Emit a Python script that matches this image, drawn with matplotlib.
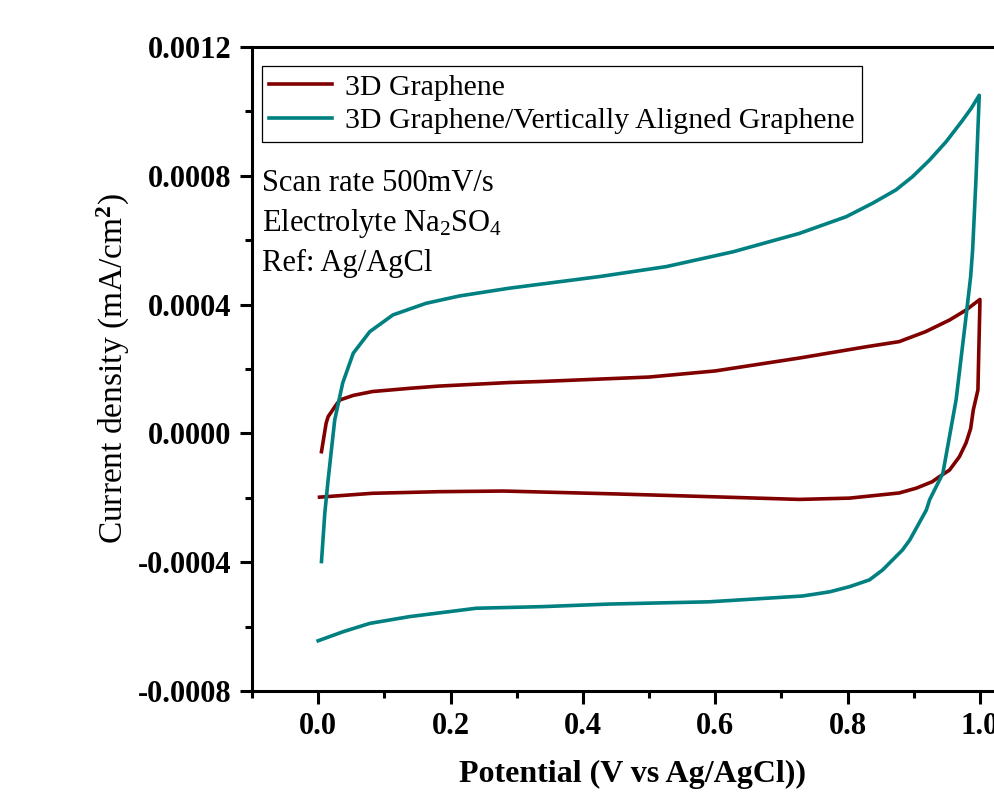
import numpy as np
import matplotlib.pyplot as plt
from matplotlib.ticker import MultipleLocator, FormatStrFormatter

plt.rcParams['font.family'] = 'Liberation Serif'
plt.rcParams['mathtext.fontset'] = 'custom'
plt.rcParams['mathtext.rm'] = 'Liberation Serif'
plt.rcParams['mathtext.it'] = 'Liberation Serif:italic'
plt.rcParams['mathtext.bf'] = 'Liberation Serif:bold'

# 3D graphene, anodic sweep then cathodic sweep
g3d_fwd_v = [0.005, 0.012, 0.015, 0.027, 0.033, 0.053, 0.082, 0.138, 0.183, 0.289,
             0.334, 0.5, 0.6, 0.727, 0.828, 0.878, 0.918, 0.954, 0.979, 1.0]
g3d_fwd_j = [-0.0000568, 0.0000314, 0.0000519, 0.0000882, 0.000104, 0.000118, 0.000130,
             0.000140, 0.000147, 0.000158, 0.000161, 0.000175, 0.000194, 0.000234,
             0.000269, 0.000285, 0.000316, 0.000352, 0.000383, 0.000416]
g3d_rev_v = [1.0, 0.998, 0.997, 0.99, 0.986, 0.979, 0.969, 0.954, 0.939, 0.928,
             0.904, 0.878, 0.803, 0.727, 0.6, 0.45, 0.28, 0.183, 0.082, 0.002]
g3d_rev_j = [0.000405, 0.000228, 0.000135, 0.0000727, 0.0000150, -0.0000298,
             -0.0000724, -0.000114, -0.000134, -0.000150, -0.000170, -0.000185,
             -0.000201, -0.000205, -0.000197, -0.000188, -0.000179, -0.000181,
             -0.000186, -0.000198]

# 3D graphene / vertically aligned graphene
vag_fwd_v = [0.005, 0.010, 0.015, 0.025, 0.037, 0.053, 0.078, 0.113, 0.163, 0.214,
             0.289, 0.425, 0.526, 0.627, 0.727, 0.798, 0.838, 0.873, 0.898, 0.924,
             0.949, 0.974, 0.987, 0.999]
vag_fwd_j = [-0.000398, -0.000248, -0.000145, 0.0000416, 0.000156, 0.000249, 0.000316,
             0.000368, 0.000404, 0.000427, 0.000451, 0.000487, 0.000518, 0.000564,
             0.000621, 0.000673, 0.000715, 0.000756, 0.000797, 0.000849, 0.000906,
             0.000973, 0.001010, 0.00105]
vag_rev_v = [0.999, 0.994, 0.989, 0.986, 0.979, 0.964, 0.944, 0.924, 0.919, 0.894,
             0.883, 0.853, 0.833, 0.803, 0.773, 0.732, 0.591, 0.440, 0.339, 0.239,
             0.138, 0.078, 0.0375, 0.0]
vag_rev_j = [0.00105, 0.000787, 0.000570, 0.000487, 0.000362, 0.000104, -0.000124,
             -0.000206, -0.000238, -0.000331, -0.000362, -0.000424, -0.000455,
             -0.000476, -0.000492, -0.000505, -0.000523, -0.000530, -0.000538,
             -0.000543, -0.000569, -0.000590, -0.000616, -0.000644]

fig = plt.figure(figsize=(9.95, 7.96), dpi=100)
ax = fig.add_axes([252 / 995, 105 / 796, 761 / 995, 644 / 796])

ax.plot(g3d_fwd_v + g3d_rev_v, g3d_fwd_j + g3d_rev_j, color='#800000', lw=2.6,
        label='3D Graphene', solid_joinstyle='round')
ax.plot(vag_fwd_v + vag_rev_v, vag_fwd_j + vag_rev_j, color='#008080', lw=2.6,
        label='3D Graphene/Vertically Aligned Graphene', solid_joinstyle='round')

ax.set_xlim(-0.1, 1.05)
ax.set_ylim(-0.0008, 0.0012)
ax.xaxis.set_major_locator(MultipleLocator(0.2))
ax.xaxis.set_minor_locator(MultipleLocator(0.1))
ax.yaxis.set_major_locator(MultipleLocator(0.0004))
ax.yaxis.set_minor_locator(MultipleLocator(0.0002))
ax.xaxis.set_major_formatter(FormatStrFormatter('%.1f'))
ax.yaxis.set_major_formatter(FormatStrFormatter('%.4f'))

for s in ['left', 'bottom', 'top']:
    ax.spines[s].set_linewidth(2.2)
ax.spines['right'].set_visible(False)
ax.tick_params(which='major', direction='out', length=9, width=2.2, labelsize=22, pad=6)
ax.tick_params(which='minor', direction='out', length=5, width=2.2)
for lab in ax.get_xticklabels() + ax.get_yticklabels():
    lab.set_fontweight('bold')

ax.set_xlabel('Potential (V vs Ag/AgCl))', fontsize=23, fontweight='bold', labelpad=14)
ax.set_ylabel(r'Current density (mA/cm$^{\mathbf{2}}$)', fontsize=24, labelpad=4)

leg = ax.legend(loc='upper left', bbox_to_anchor=(0.013, 0.97), fontsize=21.5,
                frameon=True, fancybox=False, edgecolor='black', framealpha=1,
                handlelength=2.1, handletextpad=0.42, borderpad=0.25, labelspacing=0.22,
                borderaxespad=0)
leg.get_frame().set_linewidth(0.9)

notes = ['Scan rate 500mV/s', r'Electrolyte Na$_2$SO$_4$', 'Ref: Ag/AgCl']
for i, t in enumerate(notes):
    ax.text(0.013, 0.788 - i * 0.062, t, transform=ax.transAxes, fontsize=22,
            va='center', ha='left')

fig.savefig('out.png', dpi=100)
